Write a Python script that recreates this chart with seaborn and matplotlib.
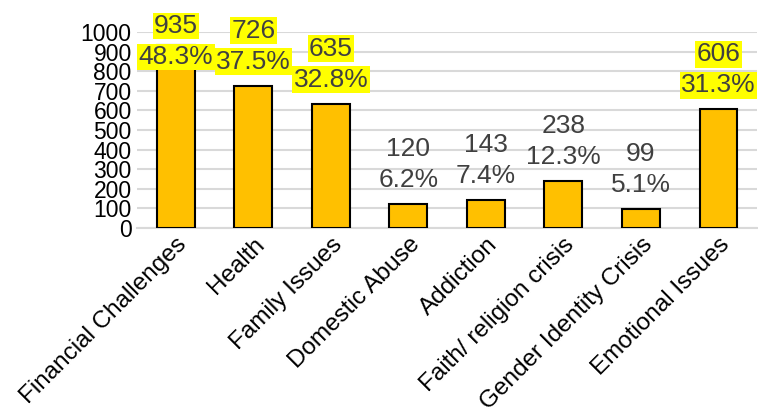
import matplotlib
matplotlib.use("Agg")
import matplotlib.pyplot as plt
import seaborn as sns

categories = ["Financial Challenges", "Health", "Family Issues", "Domestic Abuse",
              "Addiction", "Faith/ religion crisis", "Gender Identity Crisis",
              "Emotional Issues"]
counts = [935, 726, 635, 120, 143, 238, 99, 606]
percents = ["48.3%", "37.5%", "32.8%", "6.2%", "7.4%", "12.3%", "5.1%", "31.3%"]
highlighted = [True, True, True, False, False, False, False, True]
yticks = list(range(0, 1001, 100))

sns.set_style("white")
plt.rcParams['font.family'] = ['Liberation Sans', 'DejaVu Sans']

fig = plt.figure(figsize=(7.58, 4.18), dpi=100)
ax = fig.add_axes([0.181, 0.4545, 0.818, 0.469])

sns.barplot(x=categories, y=counts, color="#FFC000", saturation=1,
            edgecolor="black", linewidth=1.5, width=0.49, ax=ax, zorder=3)

ax.set_ylim(0, 1000)
ax.set_yticks(yticks)
ax.set_yticklabels([str(t) for t in yticks], fontsize=16.5, color="black")
ax.yaxis.grid(True, color="#D9D9D9", linewidth=1.5, zorder=0)
ax.set_axisbelow(True)
for s in ["left", "right", "top"]:
    ax.spines[s].set_visible(False)
ax.spines["bottom"].set_color("#D9D9D9")
ax.spines["bottom"].set_linewidth(1.5)
ax.tick_params(axis="both", length=0, pad=4)
ax.set_xticks(range(len(categories)))
ax.set_xticklabels(categories, rotation=45, ha="right", rotation_mode="anchor",
                   fontsize=17.5, color="black")
ax.set_xlabel("")
ax.set_ylabel("")

# data labels: value on top line, percent below, clamped inside the chart
for i, (v, p, hl) in enumerate(zip(counts, percents, highlighted)):
    anchor = min(v, 750)
    box = dict(boxstyle="square,pad=0.05", facecolor="#FFFF00", edgecolor="none") if hl else None
    ax.annotate(p, (i, anchor), xytext=(0, 12), textcoords="offset pixels",
                ha="center", va="bottom", fontsize=19, color="#404040", bbox=box)
    ax.annotate(str(v), (i, anchor), xytext=(0, 43), textcoords="offset pixels",
                ha="center", va="bottom", fontsize=19, color="#404040", bbox=box)

fig.savefig("out.png", dpi=100)
